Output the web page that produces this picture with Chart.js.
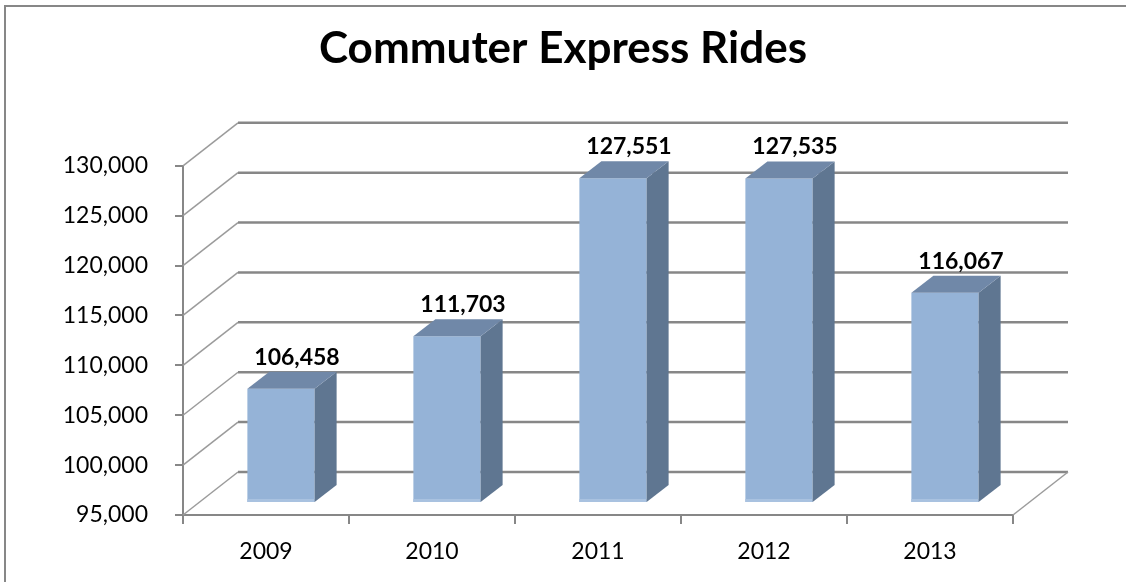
<!DOCTYPE html>
<html>
<head>
<meta charset="utf-8">
<script src="https://cdn.jsdelivr.net/npm/chart.js@4.4.1/dist/chart.umd.min.js"></script>
<style>
  html, body { margin: 0; padding: 0; background: #fff; }
  canvas { display: block; }
</style>
</head>
<body>
<canvas id="ridesChart" width="1126" height="582"></canvas>
<script>
// data
const years = ['2009', '2010', '2011', '2012', '2013'];
const rides = [106458, 111703, 127551, 127535, 116067];
const yMin = 95000;
const yMax = 130000;
const yStep = 5000;

const FONT = "Lato, 'Liberation Sans', sans-serif";
const gridGray = '#878787';
// oblique depth of the floor / walls and of the bars
const wallDx = 55, wallDy = -43;
const barFrontDx = 15, barFrontDy = -12;
const barDx = 22, barDy = -17;

Chart.defaults.color = '#000';
Chart.defaults.font.family = FONT;

const fmt = (v) => v.toLocaleString('en-US');

// frame, back wall gridlines and left wall diagonals
const wallPlugin = {
  id: 'wall',
  beforeDraw(chart) {
    const ctx = chart.ctx;
    ctx.save();
    ctx.fillStyle = '#fff';
    ctx.fillRect(0, 0, chart.width, chart.height);
    ctx.strokeStyle = gridGray;
    ctx.lineWidth = 2;
    ctx.strokeRect(5, 6, chart.width + 20, chart.height + 20);
    ctx.restore();
  },
  beforeDatasetsDraw(chart) {
    const ctx = chart.ctx;
    const { left, right } = chart.chartArea;
    const y = chart.scales.y;
    ctx.save();
    y.ticks.forEach((t) => {
      const py = y.getPixelForValue(t.value);
      // diagonal on the side wall
      ctx.strokeStyle = '#9b9b9b';
      ctx.lineWidth = 1.5;
      ctx.beginPath();
      ctx.moveTo(left, py);
      ctx.lineTo(left + wallDx, py + wallDy);
      ctx.stroke();
      // horizontal on the back wall
      ctx.strokeStyle = gridGray;
      ctx.lineWidth = 2.5;
      ctx.beginPath();
      ctx.moveTo(left + wallDx, py + wallDy);
      ctx.lineTo(right + wallDx, py + wallDy);
      ctx.stroke();
    });
    // right edge of the floor
    const by = y.getPixelForValue(yMin);
    ctx.strokeStyle = '#9b9b9b';
    ctx.lineWidth = 1.5;
    ctx.beginPath();
    ctx.moveTo(right, by);
    ctx.lineTo(right + wallDx, by + wallDy);
    ctx.stroke();
    ctx.restore();

    // bar fronts sit a little into the depth
    ctx.save();
    ctx.translate(barFrontDx, barFrontDy);
  },
  afterDatasetsDraw(chart) {
    const ctx = chart.ctx;
    ctx.restore();
    const meta = chart.getDatasetMeta(0);
    ctx.save();
    meta.data.forEach((bar, i) => {
      const p = bar.getProps(['x', 'y', 'base', 'width'], true);
      const xl = p.x - p.width / 2 + barFrontDx;
      const xr = p.x + p.width / 2 + barFrontDx;
      const yt = p.y + barFrontDy;
      const yb = p.base + barFrontDy;
      // lighter strip at the foot of the front face
      ctx.fillStyle = '#a9c2e0';
      ctx.fillRect(xl, yb - 3, xr - xl, 3);
      // side
      ctx.fillStyle = '#5f7691';
      ctx.beginPath();
      ctx.moveTo(xr, yt);
      ctx.lineTo(xr + barDx, yt + barDy);
      ctx.lineTo(xr + barDx, yb + barDy);
      ctx.lineTo(xr, yb);
      ctx.closePath();
      ctx.fill();
      // top
      ctx.fillStyle = '#7088a8';
      ctx.beginPath();
      ctx.moveTo(xl, yt);
      ctx.lineTo(xl + barDx, yt + barDy);
      ctx.lineTo(xr + barDx, yt + barDy);
      ctx.lineTo(xr, yt);
      ctx.closePath();
      ctx.fill();
      // value label
      ctx.fillStyle = '#000';
      ctx.font = 'bold 23px ' + FONT;
      ctx.textAlign = 'center';
      ctx.textBaseline = 'alphabetic';
      ctx.fillText(fmt(rides[i]), p.x + 31, yt + barDy - 7);
    });
    ctx.restore();
  }
};

new Chart(document.getElementById('ridesChart'), {
  type: 'bar',
  data: {
    labels: years,
    datasets: [{
      label: 'Rides',
      data: rides,
      base: yMin,
      backgroundColor: '#95b3d7',
      borderWidth: 0,
      barPercentage: 1,
      categoryPercentage: 0.405,
      clip: false
    }]
  },
  options: {
    responsive: false,
    devicePixelRatio: 1,
    animation: false,
    layout: { padding: 0 },
    plugins: {
      legend: { display: false },
      tooltip: { enabled: false },
      title: {
        display: true,
        text: 'Commuter Express Rides',
        color: '#000',
        font: { family: FONT, size: 44, weight: 'bold', lineHeight: 1.2 },
        padding: { top: 22, bottom: 91 }
      }
    },
    scales: {
      x: {
        grid: { drawOnChartArea: false, offset: true, tickLength: 9, color: gridGray, lineWidth: 2 },
        border: { color: gridGray, width: 2 },
        ticks: { font: { size: 23 }, padding: 14, maxRotation: 0 },
        afterFit(s) { s.height = 67; }
      },
      y: {
        min: yMin,
        max: yMax,
        grid: { drawOnChartArea: false, tickLength: 8, color: gridGray, lineWidth: 2 },
        border: { color: gridGray, width: 2 },
        ticks: { stepSize: yStep, font: { size: 23 }, padding: 27, callback: (v) => fmt(v) },
        afterFit(s) { s.width = 183; }
      },
      // empty strip on the right, keeps the title centred on the whole canvas
      yRight: {
        position: 'right',
        grid: { display: false },
        border: { display: false },
        ticks: { display: false },
        afterFit(s) { s.width = 113; }
      }
    }
  },
  plugins: [wallPlugin]
});
</script>
</body>
</html>
